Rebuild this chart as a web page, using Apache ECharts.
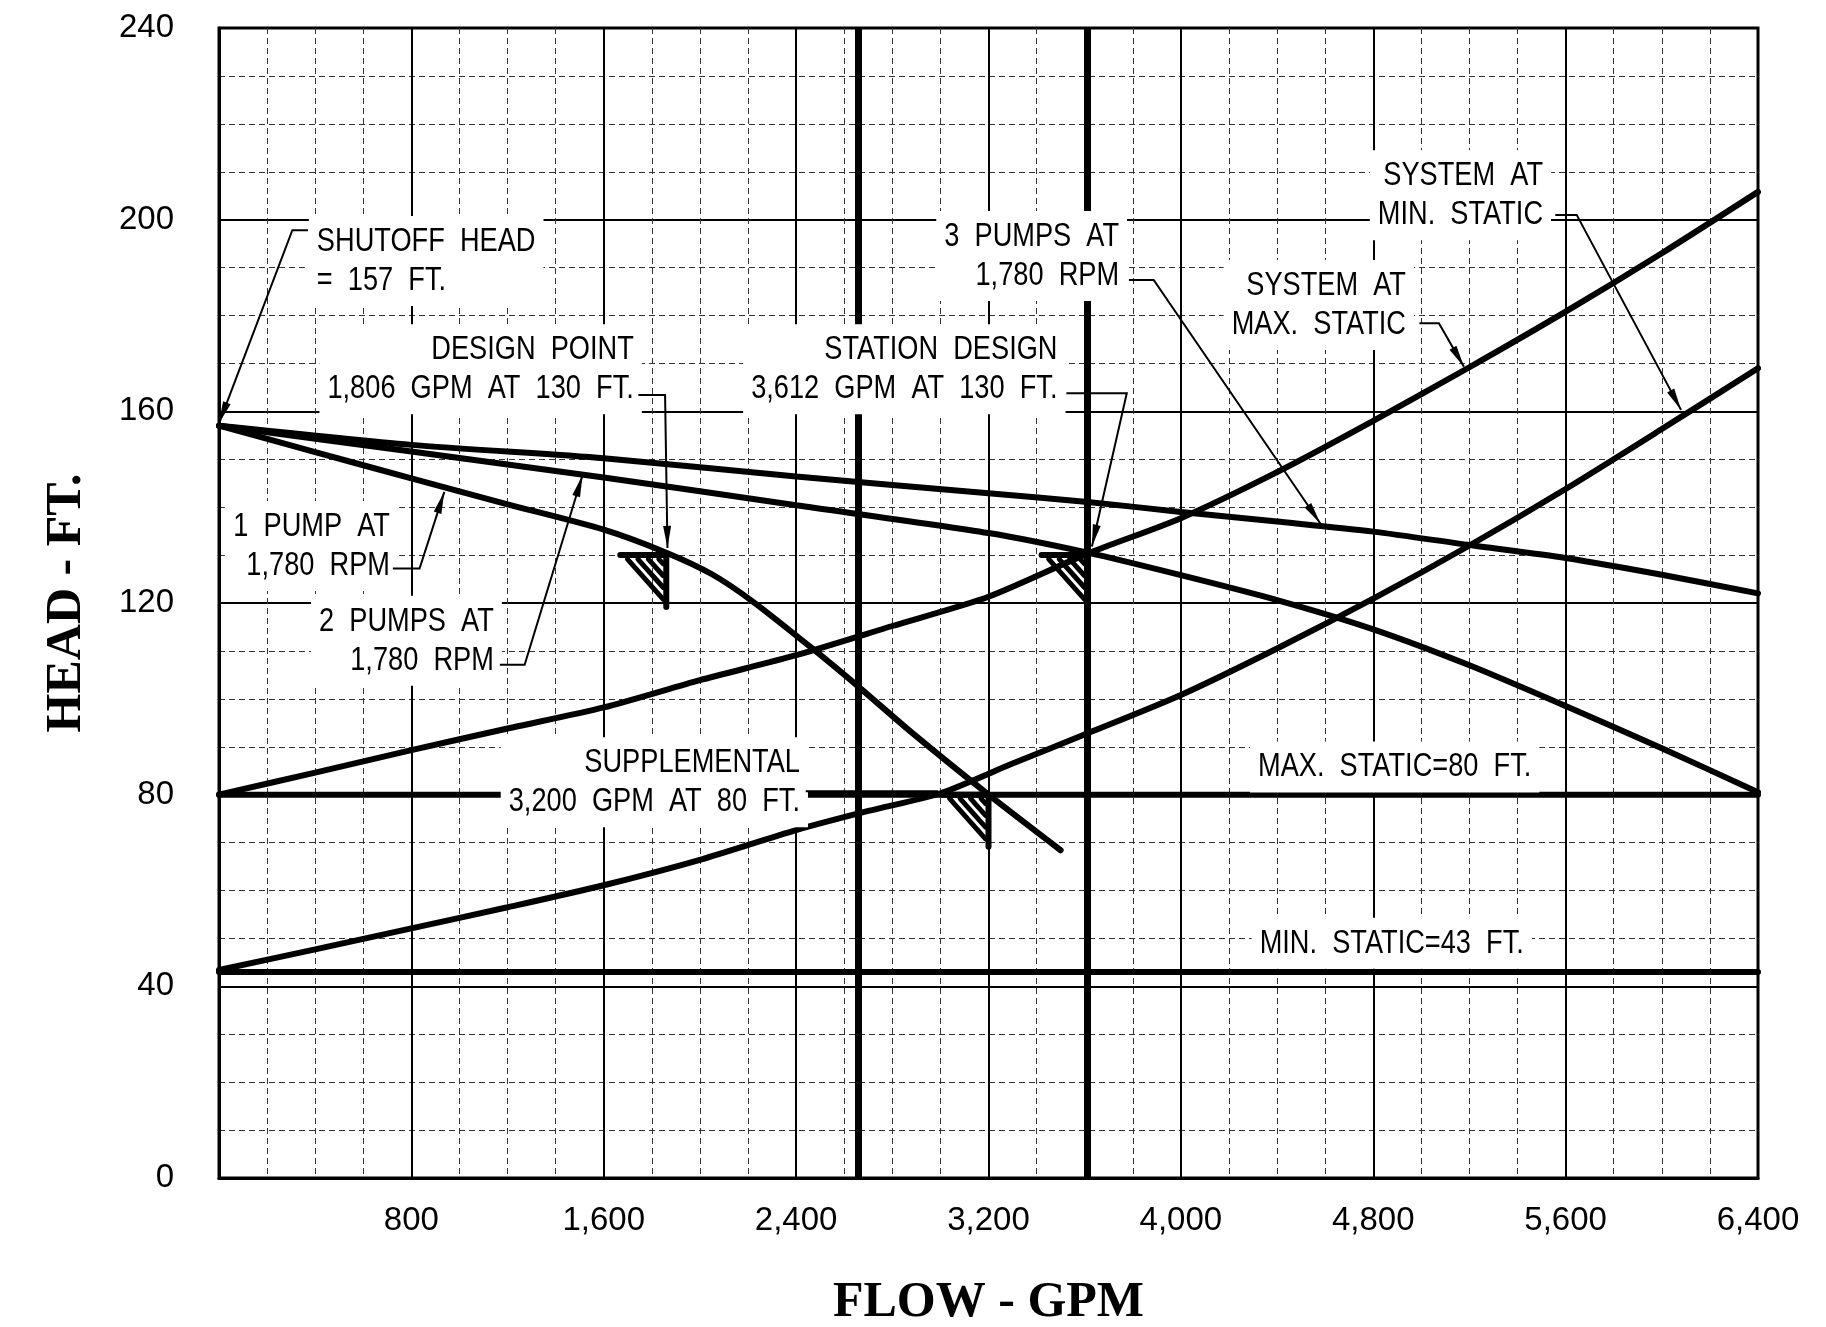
<!DOCTYPE html>
<html>
<head>
<meta charset="utf-8">
<title>Pump Curves</title>
<script src="https://cdn.jsdelivr.net/npm/echarts@6/dist/echarts.min.js"></script>
<style>
  html, body { margin: 0; padding: 0; background: #fff; }
  #pump-chart { width: 1826px; height: 1327px; }
</style>
</head>
<body>
<div id="pump-chart"></div>
<script>
// flow (GPM), head (FT.)
const onePump = [[0, 157], [400, 151.5], [800, 146], [1200, 140.6], [1600, 135.3], [1860, 130.5],
  [2050, 126], [2220, 120.3], [2475, 110.2], [2660, 102.5], [2880, 93], [3200, 80], [3500, 68.4]];
const twoPumps = [[0, 157], [800, 151.6], [1600, 146.2], [2400, 140.4], [3200, 134.6], [3612, 130.5],
  [4000, 125.8], [4400, 120.6], [4800, 114.5], [5200, 107], [5600, 98.5], [6000, 89.7], [6400, 80.5]];
const threePumps = [[0, 157], [800, 153], [1600, 150.2], [2400, 146.4], [3200, 142.9], [3612, 141.1],
  [4000, 139], [4400, 137], [4800, 134.9], [5200, 132.1], [5600, 129.4], [6000, 125.9], [6400, 122]];
const systemMaxStatic = [[0, 80], [400, 84.6], [800, 89.3], [1200, 93.8], [1600, 98.2], [2000, 103.9],
  [2400, 109.1], [2800, 115.2], [3200, 121.3], [3612, 130.3], [4000, 137.7], [4400, 147.3], [4800, 158],
  [5200, 169.2], [5600, 180.8], [6000, 193], [6400, 205.8]];
const systemMinStatic = [[0, 43.4], [400, 47.7], [800, 52.1], [1200, 56.5], [1600, 61.1], [2000, 66.4],
  [2400, 72.6], [2700, 76.6], [3000, 80.3], [3300, 86.5], [3612, 92.8], [4000, 100.8], [4400, 110.5],
  [4800, 120.9], [5200, 132], [5600, 143.8], [6000, 156.3], [6400, 169]];
const maxStatic = [[0, 80], [6400, 80]];
const minStatic = [[0, 43], [6400, 43]];
const heavyFlows = [2660, 3612];
const designMarks = [[1860, 130], [3612, 130], [3200, 80]];

// callouts: text lines, anchor (flow, head) and which side the anchor is on
const notes = [
  { lines: ['SHUTOFF  HEAD', '=  157  FT.'], at: [407, 191.4], align: 'left' },
  { lines: ['DESIGN  POINT', '1,806  GPM  AT  130  FT.'], at: [1725, 168.8], align: 'right' },
  { lines: ['STATION  DESIGN', '3,612  GPM  AT  130  FT.'], at: [3487, 168.8], align: 'right' },
  { lines: ['3  PUMPS  AT', '1,780  RPM'], at: [3743, 192.4], align: 'right' },
  { lines: ['SYSTEM  AT', 'MIN.  STATIC'], at: [5506, 205.1], align: 'right' },
  { lines: ['SYSTEM  AT', 'MAX.  STATIC'], at: [4936, 182.2], align: 'right' },
  { lines: ['1  PUMP  AT', '1,780  RPM'], at: [711, 131.9], align: 'right' },
  { lines: ['2  PUMPS  AT', '1,780  RPM'], at: [1143, 112.1], align: 'right' },
  { lines: ['SUPPLEMENTAL', '3,200  GPM  AT  80  FT.'], at: [2416, 82.6], align: 'right' },
  { lines: ['MAX.  STATIC=80  FT.'], at: [4889, 85.8], align: 'center' },
  { lines: ['MIN.  STATIC=43  FT.'], at: [4877, 49.0], align: 'center' }
];
const leaders = [
  { path: [[370, 197.8], [305, 197.8], [0, 157.5]], arrow: true },
  { path: [[1744, 163.4], [1855, 163.4], [1865, 131.5]], arrow: true },
  { path: [[3524, 163.8], [3775, 163.8], [3630, 131.8]], arrow: true },
  { path: [[3784, 187.4], [3887, 187.4], [4580, 136.6]], arrow: true },
  { path: [[5557, 201], [5646, 201], [6080, 160.3]], arrow: true },
  { path: [[4992, 178.4], [5073, 178.4], [5177, 169.3]], arrow: true },
  { path: [[723, 127.2], [834, 127.2], [937, 143.2]], arrow: true },
  { path: [[1168, 107.1], [1271, 107.1], [1512, 146.7]], arrow: true },
  { path: [[2440, 80.7], [2990, 80.7]], arrow: false }
];

const SANS = '"Liberation Sans", Arial, sans-serif';
const SQUEEZE = 0.8;

function curve(name, data) {
  return {
    name: name,
    type: 'line',
    data: data,
    smooth: 0.25,
    symbol: 'none',
    z: 3,
    lineStyle: { color: '#000', width: 6, cap: 'round' }
  };
}

function renderNote(params, api) {
  const n = notes[params.dataIndex];
  const p = api.coord(n.at);
  const pad = 10;
  const dx = n.align === 'right' ? pad * SQUEEZE : (n.align === 'left' ? -pad * SQUEEZE : 0);
  return {
    type: 'text',
    x: p[0] + dx,
    y: p[1],
    scaleX: SQUEEZE,
    style: {
      text: n.lines.join('\n'),
      fill: '#000',
      fontSize: 34,
      fontFamily: SANS,
      align: n.align,
      verticalAlign: 'middle',
      lineHeight: 39,
      backgroundColor: '#fff',
      padding: [6, pad]
    }
  };
}

function renderLeader(params, api) {
  const l = leaders[params.dataIndex];
  const pts = l.path.map(d => api.coord(d));
  const children = [{
    type: 'polyline',
    shape: { points: pts },
    style: { stroke: '#000', lineWidth: 2, fill: 'none' }
  }];
  if (l.arrow) {
    const a = pts[pts.length - 1], b = pts[pts.length - 2];
    const ang = Math.atan2(a[1] - b[1], a[0] - b[0]);
    const len = 22, half = 4;
    const bx = a[0] - len * Math.cos(ang), by = a[1] - len * Math.sin(ang);
    children.push({
      type: 'polygon',
      shape: { points: [a, [bx + half * Math.sin(ang), by - half * Math.cos(ang)], [bx - half * Math.sin(ang), by + half * Math.cos(ang)]] },
      style: { fill: '#000' }
    });
  }
  return { type: 'group', children: children };
}

function renderMark(params, api) {
  const p = api.coord([api.value(0), api.value(1)]);
  const st = { stroke: '#000', lineWidth: 6, lineCap: 'round' };
  const children = [
    { type: 'line', shape: { x1: p[0] - 46, y1: p[1], x2: p[0], y2: p[1] }, style: st },
    { type: 'line', shape: { x1: p[0], y1: p[1], x2: p[0], y2: p[1] + 52 }, style: st }
  ];
  for (let k = 1; k <= 4; k++) {
    const s = k / 4.4;
    children.push({
      type: 'line',
      shape: { x1: p[0] - 46 * s + 3, y1: p[1] + 4, x2: p[0] - 3, y2: p[1] + 52 * s - 3 },
      style: { stroke: '#000', lineWidth: 5, lineCap: 'round' }
    });
  }
  return { type: 'group', children: children };
}

const chart = echarts.init(document.getElementById('pump-chart'));
chart.setOption({
  backgroundColor: '#fff',
  animation: false,
  grid: {
    left: 219, right: 68, top: 28, bottom: 149,
    show: true, borderColor: '#000', borderWidth: 3,
    outerBoundsMode: 'none'
  },
  xAxis: {
    type: 'value',
    min: 0, max: 6400, interval: 800,
    name: 'FLOW - GPM',
    nameLocation: 'middle',
    nameGap: 100,
    nameTextStyle: { fontFamily: '"Liberation Serif", serif', fontWeight: 'bold', fontSize: 50, color: '#000' },
    axisLine: { show: true, lineStyle: { color: '#000', width: 3 } },
    axisTick: { show: false },
    axisLabel: {
      margin: 26, fontSize: 33, fontFamily: SANS, color: '#000',
      formatter: v => v === 0 ? '' : v.toLocaleString('en-US')
    },
    splitLine: { show: true, lineStyle: { color: '#000', width: 2 } },
    minorTick: { show: false, splitNumber: 4 },
    minorSplitLine: { show: true, lineStyle: { color: '#333', width: 1, type: [6, 4] } }
  },
  yAxis: {
    type: 'value',
    min: 0, max: 240, interval: 40,
    name: 'HEAD - FT.',
    nameLocation: 'middle',
    nameGap: 127,
    nameTextStyle: { fontFamily: '"Liberation Serif", serif', fontWeight: 'bold', fontSize: 50, color: '#000' },
    axisLine: { show: true, lineStyle: { color: '#000', width: 3 } },
    axisTick: { show: false },
    axisLabel: { margin: 45, fontSize: 33, fontFamily: SANS, color: '#000' },
    splitLine: { show: true, lineStyle: { color: '#000', width: 2 } },
    minorTick: { show: false, splitNumber: 4 },
    minorSplitLine: { show: true, lineStyle: { color: '#333', width: 1, type: [6, 4] } }
  },
  series: [
    curve('1 PUMP AT 1,780 RPM', onePump),
    curve('2 PUMPS AT 1,780 RPM', twoPumps),
    curve('3 PUMPS AT 1,780 RPM', threePumps),
    curve('SYSTEM AT MAX. STATIC', systemMaxStatic),
    curve('SYSTEM AT MIN. STATIC', systemMinStatic),
    curve('MAX. STATIC', maxStatic),
    curve('MIN. STATIC', minStatic),
    {
      name: 'flow lines',
      type: 'line',
      data: [],
      z: 3,
      markLine: {
        silent: true,
        symbol: 'none',
        label: { show: false },
        lineStyle: { color: '#000', width: 7, type: 'solid' },
        data: heavyFlows.map(f => ({ xAxis: f }))
      }
    },
    {
      name: 'points',
      type: 'custom',
      data: designMarks,
      z: 6,
      renderItem: renderMark
    },
    {
      name: 'notes',
      type: 'custom',
      data: notes.map(n => n.at),
      z: 10,
      renderItem: renderNote
    },
    {
      name: 'leaders',
      type: 'custom',
      data: leaders.map(l => l.path[l.path.length - 1]),
      z: 11,
      renderItem: renderLeader
    }
  ]
});
</script>
</body>
</html>
